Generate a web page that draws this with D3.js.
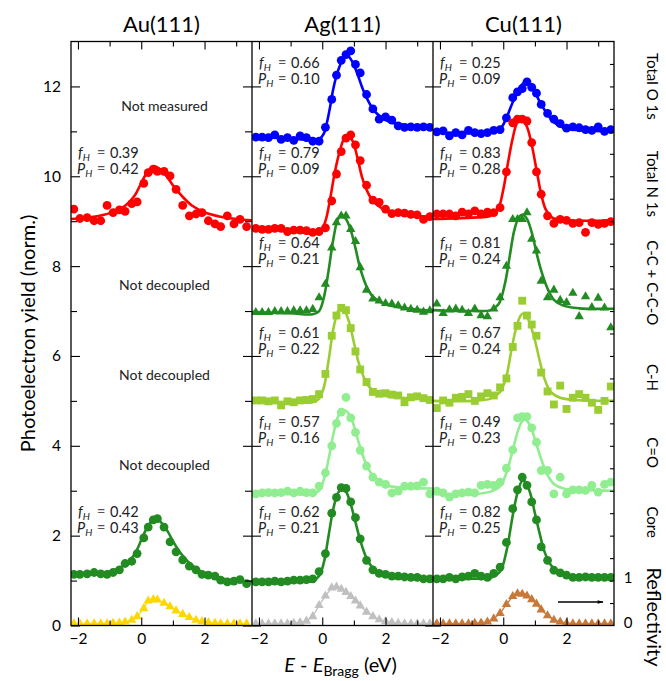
<!DOCTYPE html>
<html>
<head>
<meta charset="utf-8">
<script src="https://cdnjs.cloudflare.com/ajax/libs/d3/7.8.5/d3.min.js"></script>
<style>
  body { margin: 0; background: #fff; }
  text { font-family: Lato, "DejaVu Sans", sans-serif; }
</style>
</head>
<body>
<svg id="chart" width="666" height="681"></svg>
<script>
//  panel titles and row names
const panelNames = ["Au(111)", "Ag(111)", "Cu(111)"];
const rowNames = ["Total O 1s", "Total N 1s", "C-C + C-C-O", "C-H", "C=O", "Core"];

//  energies of the measured points (eV)
const auX = [-2.13,-1.94,-1.71,-1.49,-1.28,-1.08,-0.89,-0.69,-0.51,-0.30,-0.13,0.08,0.22,0.38,0.51,0.72,0.91,1.10,1.31,1.52,1.73,1.92,2.12,2.33,2.51,2.72,2.93,3.12,3.33];
const agCuX = [-2.1,-1.9,-1.7,-1.5,-1.3,-1.1,-0.9,-0.7,-0.5,-0.3,-0.1,0.1,0.3,0.45,0.6,0.75,0.9,1.05,1.2,1.4,1.6,1.8,2.0,2.2,2.4,2.6,2.8,3.0,3.2,3.4];

//  Au(111) yields
const auN1s  = [9.27,9.06,9.08,9.01,9.01,9.35,9.19,9.25,9.22,9.39,9.43,9.84,10.08,10.16,10.11,10.11,10.01,9.71,9.35,9.12,9.16,9.19,9.01,8.94,8.88,9.12,8.94,9.04,8.88];
const auCore = [1.14,1.14,1.15,1.18,1.15,1.14,1.18,1.24,1.38,1.43,1.60,1.95,2.19,2.35,2.38,2.19,1.86,1.64,1.46,1.32,1.24,1.14,1.12,1.10,1.01,0.97,0.99,1.02,0.93];
const auRefl = [0.04,0.04,0.04,0.04,0.04,0.04,0.05,0.06,0.08,0.12,0.20,0.38,0.55,0.58,0.57,0.50,0.42,0.33,0.25,0.18,0.12,0.09,0.07,0.05,0.04,0.04,0.04,0.04,0.04];

//  Ag(111) yields
const agO1s  = [10.87,10.87,10.86,10.92,10.82,10.86,10.80,10.90,10.86,10.78,10.78,11.09,11.71,12.25,12.58,12.71,12.79,12.49,12.30,11.82,11.50,11.27,11.32,11.25,11.12,11.09,11.10,11.09,11.10,11.09];
const agN1s  = [8.84,8.82,8.82,8.84,8.84,8.77,8.80,8.80,8.79,8.75,8.77,8.85,9.45,10.05,10.55,10.85,10.92,10.70,10.35,9.80,9.47,9.42,9.27,9.17,9.19,9.18,9.15,9.14,9.04,9.10];
const agCC   = [6.97,6.97,6.97,6.99,6.99,6.99,7.01,7.01,7.01,7.04,7.30,7.60,8.41,8.97,9.12,9.12,8.82,8.55,7.97,7.47,7.27,7.23,7.17,7.16,7.12,7.07,7.04,7.02,6.98,7.01];
const agCH   = [5.01,5.01,4.99,5.01,4.90,4.99,4.97,5.01,5.02,5.04,5.15,5.60,6.45,6.90,7.07,7.02,6.62,6.10,5.70,5.42,5.20,5.16,5.17,5.14,5.12,4.97,5.08,5.10,5.06,5.02];
const agCO   = [2.93,2.95,2.96,2.95,2.96,2.99,2.95,2.99,2.96,2.95,3.10,3.40,4.00,4.50,4.75,5.08,4.62,4.30,3.90,3.55,3.30,3.19,3.14,2.95,2.99,3.10,3.10,3.11,3.19,2.93];
const agCore = [0.97,0.97,0.97,0.99,0.97,0.99,1.01,1.01,1.02,1.04,1.20,1.60,2.50,2.85,3.07,3.05,2.75,2.40,1.93,1.45,1.24,1.16,1.14,1.10,1.10,1.08,1.07,1.07,1.04,1.04];
const agRefl = [0.04,0.04,0.04,0.04,0.04,0.04,0.05,0.07,0.10,0.20,0.45,0.66,0.84,0.86,0.81,0.74,0.65,0.55,0.44,0.30,0.20,0.13,0.09,0.07,0.05,0.04,0.04,0.04,0.04,0.04];

//  Cu(111) yields
const cuO1s  = [10.99,11.01,10.90,10.97,10.92,11.02,10.97,10.95,10.97,11.02,11.04,11.30,11.75,11.88,11.95,12.10,11.98,11.85,11.60,11.40,11.27,11.17,11.07,11.10,11.08,11.04,11.02,11.10,11.00,11.04];
const cuN1s  = [9.16,9.16,9.16,9.12,9.20,9.16,9.23,9.16,9.20,9.19,9.30,10.10,11.19,11.27,11.27,11.23,10.75,10.10,9.60,9.12,8.95,9.04,9.02,8.95,8.97,8.75,8.97,8.93,8.95,8.99];
const cuCC   = [7.16,6.95,7.03,7.05,7.02,6.95,7.05,6.90,6.88,7.05,7.30,8.00,9.04,9.04,9.04,9.19,8.60,8.34,7.67,7.30,7.47,7.24,7.19,7.40,6.88,7.32,7.08,7.29,7.07,6.63];
const cuCH   = [4.84,5.01,4.96,5.07,5.09,5.15,5.00,5.10,5.17,5.12,5.30,5.50,6.20,6.67,7.23,6.90,6.70,6.45,5.63,5.21,4.92,5.34,4.82,5.07,5.15,5.07,4.96,4.80,5.00,5.32];
const cuCO   = [2.99,2.95,2.86,2.93,2.95,2.97,2.95,3.12,3.14,3.12,3.19,3.50,3.91,4.62,4.65,4.65,4.40,4.08,3.45,3.45,2.93,3.30,2.93,3.02,3.02,3.01,3.12,2.97,3.14,3.19];
const cuCore = [1.04,1.04,1.07,1.04,1.08,1.10,1.16,1.10,1.07,1.16,1.30,1.85,2.60,3.02,3.30,3.12,2.75,2.35,1.75,1.45,1.23,1.17,1.12,1.07,1.07,1.08,1.07,1.07,1.07,1.07];
const cuRefl = [0.04,0.04,0.04,0.04,0.04,0.04,0.05,0.06,0.08,0.15,0.27,0.47,0.65,0.71,0.70,0.66,0.58,0.48,0.35,0.22,0.12,0.08,0.05,0.04,0.04,0.04,0.04,0.04,0.04,0.04];

//  fitted curves [E, yield]
const auN1sFit  = [[-2.22,9.05],[-1.5,9.1],[-1.0,9.18],[-0.5,9.35],[-0.2,9.58],[0.0,9.85],[0.2,10.1],[0.42,10.22],[0.6,10.15],[0.8,10.0],[1.0,9.8],[1.3,9.55],[1.6,9.35],[2.0,9.2],[2.5,9.1],[3.0,9.05],[3.5,9.02]];
const auCoreFit = [[-2.22,1.12],[-1.5,1.15],[-1.0,1.2],[-0.5,1.36],[-0.2,1.6],[0.0,1.9],[0.2,2.2],[0.45,2.4],[0.65,2.28],[0.85,2.08],[1.0,1.88],[1.3,1.56],[1.6,1.34],[2.0,1.16],[2.5,1.05],[3.0,1.0],[3.5,0.97]];
const agO1sFit  = [[-2.22,10.88],[-1.5,10.86],[-0.8,10.83],[-0.3,10.8],[-0.1,10.82],[0.05,10.95],[0.15,11.2],[0.25,11.55],[0.35,11.95],[0.5,12.35],[0.65,12.6],[0.8,12.68],[0.95,12.55],[1.1,12.3],[1.25,12.0],[1.4,11.75],[1.6,11.5],[1.8,11.35],[2.1,11.22],[2.5,11.15],[3.0,11.12],[3.5,11.1]];
const agN1sFit  = [[-2.22,8.85],[-1.0,8.8],[-0.3,8.72],[-0.05,8.78],[0.1,9.0],[0.25,9.5],[0.4,10.1],[0.55,10.55],[0.7,10.85],[0.8,10.9],[0.95,10.8],[1.1,10.45],[1.25,10.0],[1.4,9.7],[1.6,9.45],[1.9,9.28],[2.3,9.18],[2.8,9.12],[3.5,9.1]];
const agCCFit   = [[-2.22,6.98],[-1.0,6.95],[-0.3,6.93],[-0.1,7.0],[0.05,7.3],[0.2,7.9],[0.35,8.6],[0.5,9.05],[0.62,9.13],[0.75,9.05],[0.9,8.8],[1.05,8.4],[1.2,7.95],[1.4,7.55],[1.6,7.32],[1.9,7.18],[2.3,7.1],[2.8,7.05],[3.5,7.0]];
const agCHFit   = [[-2.22,5.0],[-1.0,4.97],[-0.3,4.97],[-0.1,5.05],[0.05,5.3],[0.2,5.9],[0.35,6.6],[0.5,7.0],[0.6,7.08],[0.7,7.02],[0.85,6.75],[1.0,6.3],[1.15,5.85],[1.3,5.55],[1.5,5.3],[1.8,5.15],[2.3,5.08],[3.5,5.05]];
const agCOFit   = [[-2.22,2.93],[-1.0,2.93],[-0.3,2.92],[-0.1,3.0],[0.05,3.25],[0.2,3.7],[0.35,4.25],[0.5,4.65],[0.65,4.8],[0.8,4.75],[0.95,4.55],[1.1,4.2],[1.25,3.85],[1.45,3.5],[1.7,3.25],[2.0,3.12],[2.5,3.07],[3.5,3.05]];
const agCoreFit = [[-2.22,0.97],[-1.0,0.98],[-0.3,0.99],[-0.1,1.1],[0.05,1.4],[0.2,2.0],[0.35,2.6],[0.5,2.95],[0.62,3.05],[0.75,2.98],[0.9,2.7],[1.05,2.3],[1.2,1.9],[1.4,1.5],[1.6,1.28],[1.9,1.14],[2.4,1.08],[3.5,1.05]];
const cuO1sFit  = [[-2.22,10.98],[-1.0,10.96],[-0.4,10.97],[-0.1,11.05],[0.1,11.3],[0.3,11.65],[0.5,11.95],[0.65,12.08],[0.75,12.1],[0.9,12.0],[1.05,11.8],[1.2,11.6],[1.4,11.38],[1.6,11.2],[1.9,11.08],[2.3,11.03],[3.5,11.0]];
const cuN1sFit  = [[-2.22,9.05],[-1.0,9.08],[-0.4,9.12],[-0.15,9.3],[0.0,9.7],[0.15,10.3],[0.3,10.85],[0.45,11.2],[0.6,11.25],[0.75,11.1],[0.9,10.7],[1.05,10.15],[1.2,9.6],[1.35,9.25],[1.55,9.08],[2.0,9.02],[3.5,9.02]];
const cuCCFit   = [[-2.22,7.02],[-1.0,7.0],[-0.4,7.02],[-0.15,7.15],[0.05,7.6],[0.2,8.2],[0.35,8.8],[0.5,9.1],[0.62,9.15],[0.75,9.05],[0.9,8.75],[1.05,8.3],[1.2,7.9],[1.4,7.5],[1.6,7.25],[1.9,7.12],[2.4,7.06],[3.5,7.05]];
const cuCHFit   = [[-2.22,5.0],[-1.0,5.0],[-0.4,5.05],[-0.1,5.2],[0.1,5.55],[0.25,6.1],[0.4,6.6],[0.55,6.9],[0.65,6.95],[0.8,6.8],[1.0,6.35],[1.15,5.9],[1.3,5.5],[1.5,5.2],[1.8,5.07],[2.3,5.02],[3.5,5.0]];
const cuCOFit   = [[-2.22,2.93],[-1.0,2.92],[-0.4,2.98],[-0.1,3.1],[0.1,3.4],[0.3,3.9],[0.45,4.3],[0.6,4.55],[0.7,4.58],[0.85,4.45],[1.0,4.15],[1.2,3.7],[1.4,3.35],[1.6,3.15],[1.9,3.05],[2.5,3.02],[3.5,3.0]];
const cuCoreFit = [[-2.22,1.03],[-1.0,1.04],[-0.4,1.06],[-0.1,1.2],[0.1,1.65],[0.3,2.45],[0.45,2.95],[0.6,3.22],[0.7,3.2],[0.85,2.95],[1.0,2.5],[1.15,2.05],[1.3,1.65],[1.5,1.35],[1.8,1.15],[2.3,1.07],[3.5,1.06]];

//  fit results per row (null = no fit)
const auFH = [null, "0.39", null, null, null, "0.42"];
const auPH = [null, "0.42", null, null, null, "0.43"];
const agFH = ["0.66", "0.79", "0.64", "0.61", "0.57", "0.62"];
const agPH = ["0.10", "0.09", "0.21", "0.22", "0.16", "0.21"];
const cuFH = ["0.25", "0.83", "0.81", "0.67", "0.49", "0.82"];
const cuPH = ["0.09", "0.28", "0.24", "0.24", "0.23", "0.25"];
const auNotes = ["Not measured", null, "Not decoupled", "Not decoupled", "Not decoupled", null];

//  series list (styles)
const rowColors = ["#0000ff", "#ff0000", "#228b22", "#9acd32", "#90ee90", "#228b22"];
const rowMarkers = ["circle", "circle", "triangle", "square", "circle", "circle"];
const reflColors = ["#ffd700", "#c0c0c0", "#c8793a"];

const series = [
  {panel: 0, row: 1, x: auX, y: auN1s, fit: auN1sFit},
  {panel: 0, row: 5, x: auX, y: auCore, fit: auCoreFit},
  {panel: 1, row: 0, x: agCuX, y: agO1s, fit: agO1sFit},
  {panel: 1, row: 1, x: agCuX, y: agN1s, fit: agN1sFit},
  {panel: 1, row: 2, x: agCuX, y: agCC, fit: agCCFit},
  {panel: 1, row: 3, x: agCuX, y: agCH, fit: agCHFit},
  {panel: 1, row: 4, x: agCuX, y: agCO, fit: agCOFit},
  {panel: 1, row: 5, x: agCuX, y: agCore, fit: agCoreFit},
  {panel: 2, row: 0, x: agCuX, y: cuO1s, fit: cuO1sFit},
  {panel: 2, row: 1, x: agCuX, y: cuN1s, fit: cuN1sFit},
  {panel: 2, row: 2, x: agCuX, y: cuCC, fit: cuCCFit},
  {panel: 2, row: 3, x: agCuX, y: cuCH, fit: cuCHFit},
  {panel: 2, row: 4, x: agCuX, y: cuCO, fit: cuCOFit},
  {panel: 2, row: 5, x: agCuX, y: cuCore, fit: cuCoreFit}
];
const reflSeries = [
  {panel: 0, x: auX, y: auRefl},
  {panel: 1, x: agCuX, y: agRefl},
  {panel: 2, x: agCuX, y: cuRefl}
];
const fHs = [auFH, agFH, cuFH];
const pHs = [auPH, agPH, cuPH];

//  layout
const plotLeft = 71, panelW = 181, plotTop = 41.5, plotBottom = 625.5;
const svg = d3.select("#chart");

const y = d3.scaleLinear().domain([0, 13]).range([plotBottom, plotTop]);
const xs = panelNames.map((d, i) =>
  d3.scaleLinear().domain([-2.22, 3.5]).range([plotLeft + i * panelW, plotLeft + (i + 1) * panelW]));

//  clip paths for each panel
const defs = svg.append("defs");
panelNames.forEach((d, i) => {
  defs.append("clipPath").attr("id", "clip" + i)
    .append("rect")
    .attr("x", plotLeft + i * panelW).attr("y", plotTop)
    .attr("width", panelW).attr("height", plotBottom - plotTop);
});

//  annotations (under the data)
const annot = svg.append("g").attr("font-size", "14.5px").attr("fill", "#222");
rowNames.forEach((r, row) => {
  const level = 12.5 - 2 * row;
  panelNames.forEach((p, i) => {
    const x0 = plotLeft + i * panelW;
    const fh = fHs[i][row], ph = pHs[i][row];
    if (fh == null) return;
    const yf = y(level) + 4, yp = y(level) + 20;
    const t1 = annot.append("text").attr("x", x0 + 7).attr("y", yf);
    t1.append("tspan").attr("font-style", "italic").text("f");
    t1.append("tspan").attr("font-style", "italic").attr("font-size", "10px").attr("dy", 3).text("H");
    const t2 = annot.append("text").attr("x", x0 + 6).attr("y", yp);
    t2.append("tspan").attr("font-style", "italic").text("P");
    t2.append("tspan").attr("font-style", "italic").attr("font-size", "10px").attr("dy", 3).text("H");
    annot.append("text").attr("x", x0 + 26).attr("y", yf).attr("fill", "#555").text("=");
    annot.append("text").attr("x", x0 + 26).attr("y", yp).attr("fill", "#555").text("=");
    annot.append("text").attr("x", x0 + 39).attr("y", yf).text(fh);
    annot.append("text").attr("x", x0 + 39).attr("y", yp).text(ph);
  });
  if (auNotes[row] != null) {
    annot.append("text")
      .attr("x", plotLeft + panelW / 2 + 3).attr("y", y(level - 0.92))
      .attr("dominant-baseline", "central").attr("text-anchor", "middle")
      .attr("font-size", "14px")
      .text(auNotes[row]);
  }
});

//  markers
function drawMarkers(g, data, x, shape, color) {
  if (shape == "circle") {
    g.selectAll(null).data(data).enter().append("circle")
      .attr("cx", d => x(d[0])).attr("cy", d => y(d[1]))
      .attr("r", 4.4).attr("fill", color);
  } else {
    const sym = d3.symbol().type(shape == "square" ? d3.symbolSquare : d3.symbolTriangle)
      .size(shape == "square" ? 62 : 38);
    g.selectAll(null).data(data).enter().append("path")
      .attr("transform", d => "translate(" + x(d[0]) + "," + y(d[1]) + ")")
      .attr("d", sym).attr("fill", color);
  }
}

const fitLine = d3.line().curve(d3.curveCatmullRom.alpha(0.5));

panelNames.forEach((p, i) => {
  const g = svg.append("g").attr("clip-path", "url(#clip" + i + ")");
  const x = xs[i];

  //  reflectivity
  reflSeries.filter(s => s.panel == i).forEach(s => {
    const pts = s.x.map((v, k) => [v, s.y[k]]);
    g.append("path")
      .attr("d", d3.line().x(d => x(d[0])).y(d => y(d[1]))(pts))
      .attr("fill", "none").attr("stroke", reflColors[i]).attr("stroke-width", 1.3);
    drawMarkers(g, pts, x, "triangle", reflColors[i]);
  });

  //  yields + fits
  series.filter(s => s.panel == i).forEach(s => {
    const pts = s.x.map((v, k) => [v, s.y[k]]);
    drawMarkers(g, pts, x, rowMarkers[s.row], rowColors[s.row]);
    g.append("path")
      .attr("d", fitLine.x(d => x(d[0])).y(d => y(d[1]))(s.fit))
      .attr("fill", "none").attr("stroke", rowColors[s.row])
      .attr("stroke-width", 2.6).attr("stroke-linejoin", "round");
  });
});

//  axes
function styleAxis(g) {
  g.select(".domain").remove();
  g.selectAll(".tick line").attr("stroke", "#000").attr("stroke-width", 1.1);
  g.selectAll(".tick text").attr("fill", "#000").style("font-size", "15.5px")
    .style("font-family", "Lato, 'DejaVu Sans', sans-serif");
}

const yMajor = [0, 2, 4, 6, 8, 10, 12];
const yMinor = [1, 3, 5, 7, 9, 11];
const intFormat = d3.format("d");

xs.forEach((x, i) => {
  svg.append("g").attr("transform", "translate(0," + plotBottom + ")")
    .call(d3.axisBottom(x).tickValues([-2, 0, 2]).tickFormat(intFormat)
      .tickSizeInner(-8).tickSizeOuter(0).tickPadding(7))
    .call(styleAxis);
  svg.append("g").attr("transform", "translate(0," + plotBottom + ")")
    .call(d3.axisBottom(x).tickValues([-1, 1, 3]).tickSizeInner(-5).tickSizeOuter(0).tickFormat(""))
    .call(styleAxis);
  svg.append("g").attr("transform", "translate(0," + plotTop + ")")
    .call(d3.axisTop(x).tickValues([-2, 0, 2]).tickSizeInner(-8).tickSizeOuter(0).tickFormat(""))
    .call(styleAxis);
  svg.append("g").attr("transform", "translate(0," + plotTop + ")")
    .call(d3.axisTop(x).tickValues([-1, 1, 3]).tickSizeInner(-5).tickSizeOuter(0).tickFormat(""))
    .call(styleAxis);
});

//  left axis
svg.append("g").attr("transform", "translate(" + plotLeft + ",0)")
  .call(d3.axisLeft(y).tickValues(yMajor).tickFormat(intFormat)
    .tickSizeInner(-9).tickSizeOuter(0).tickPadding(10))
  .call(styleAxis);
svg.append("g").attr("transform", "translate(" + plotLeft + ",0)")
  .call(d3.axisLeft(y).tickValues(yMinor).tickSizeInner(-6).tickSizeOuter(0).tickFormat(""))
  .call(styleAxis);

//  panel boundaries
const b1 = plotLeft + panelW, b2 = plotLeft + 2 * panelW, rightX = plotLeft + 3 * panelW;
svg.append("g").attr("transform", "translate(" + b1 + ",0)")
  .call(d3.axisRight(y).tickValues(yMajor).tickSizeInner(-9).tickSizeOuter(0).tickFormat(""))
  .call(styleAxis);
svg.append("g").attr("transform", "translate(" + b1 + ",0)")
  .call(d3.axisRight(y).tickValues(yMinor).tickSizeInner(-7).tickSizeOuter(0).tickFormat(""))
  .call(styleAxis);
svg.append("g").attr("transform", "translate(" + b1 + ",0)")
  .call(d3.axisLeft(y).tickValues(yMajor).tickSizeInner(-9).tickSizeOuter(0).tickFormat(""))
  .call(styleAxis);
svg.append("g").attr("transform", "translate(" + b2 + ",0)")
  .call(d3.axisRight(y).tickValues(yMajor).tickSizeInner(-8).tickSizeOuter(0).tickFormat(""))
  .call(styleAxis);
svg.append("g").attr("transform", "translate(" + b2 + ",0)")
  .call(d3.axisLeft(y).tickValues(yMajor).tickSizeInner(-8).tickSizeOuter(0).tickFormat(""))
  .call(styleAxis);

//  right (reflectivity) axis
svg.append("g").attr("transform", "translate(" + rightX + ",0)")
  .call(d3.axisRight(y).tickValues(d3.range(0.5, 13, 0.5)).tickSizeInner(-4).tickSizeOuter(0).tickFormat(""))
  .call(styleAxis);

//  frame
svg.append("rect")
  .attr("x", plotLeft).attr("y", plotTop)
  .attr("width", 3 * panelW).attr("height", plotBottom - plotTop)
  .attr("fill", "none").attr("stroke", "#000").attr("stroke-width", 1.3);
[b1, b2].forEach(b => {
  svg.append("line").attr("x1", b).attr("x2", b).attr("y1", plotTop).attr("y2", plotBottom)
    .attr("stroke", "#000").attr("stroke-width", 1.3);
});

//  titles
panelNames.forEach((p, i) => {
  svg.append("text")
    .attr("x", plotLeft + (i + 0.5) * panelW).attr("y", 32)
    .attr("text-anchor", "middle").attr("font-size", "22px").attr("fill", "#000")
    .text(p);
});

//  y label
svg.append("text")
  .attr("transform", "translate(27," + ((plotTop + plotBottom) / 2) + ") rotate(-90)")
  .attr("text-anchor", "middle").attr("dominant-baseline", "central")
  .attr("font-size", "20px").attr("fill", "#000")
  .text("Photoelectron yield (norm.)");

//  x label
const xl = svg.append("text")
  .attr("x", plotLeft + 1.5 * panelW - 2).attr("y", 672)
  .attr("text-anchor", "middle").attr("font-size", "20px").attr("fill", "#000");
xl.append("tspan").attr("font-style", "italic").text("E");
xl.append("tspan").text(" - ");
xl.append("tspan").attr("font-style", "italic").text("E");
xl.append("tspan").attr("font-size", "14px").attr("dy", 4).text("Bragg");
xl.append("tspan").attr("dy", -4).text(" (eV)");

//  row labels on the right
const rowLabelY = [12.0, 9.83, 7.63, 5.52, 3.85, 2.3];
rowNames.forEach((r, i) => {
  svg.append("text")
    .attr("transform", "translate(647," + y(rowLabelY[i]) + ") rotate(90)")
    .attr("text-anchor", "middle").attr("font-size", "15px").attr("fill", "#000")
    .text(r);
});
svg.append("text")
  .attr("transform", "translate(647," + y(0.19) + ") rotate(90)")
  .attr("text-anchor", "middle").attr("font-size", "20px").attr("fill", "#000")
  .text("Reflectivity");

//  reflectivity scale labels
[0, 1].forEach(v => {
  svg.append("text")
    .attr("x", 628).attr("y", y(v) - 4)
    .attr("text-anchor", "middle").attr("dominant-baseline", "central")
    .attr("font-size", "15px").attr("fill", "#000")
    .text(v);
});

//  arrow
defs.append("marker").attr("id", "arrowhead")
  .attr("viewBox", "0 0 10 10").attr("refX", 9).attr("refY", 5)
  .attr("markerWidth", 9).attr("markerHeight", 6).attr("orient", "auto")
  .attr("markerUnits", "userSpaceOnUse")
  .append("path").attr("d", "M0,2 L10,5 L0,8 Z").attr("fill", "#000");
svg.append("line")
  .attr("x1", 558).attr("x2", 603).attr("y1", 602).attr("y2", 602)
  .attr("stroke", "#000").attr("stroke-width", 1.3)
  .attr("marker-end", "url(#arrowhead)");
</script>
</body>
</html>
